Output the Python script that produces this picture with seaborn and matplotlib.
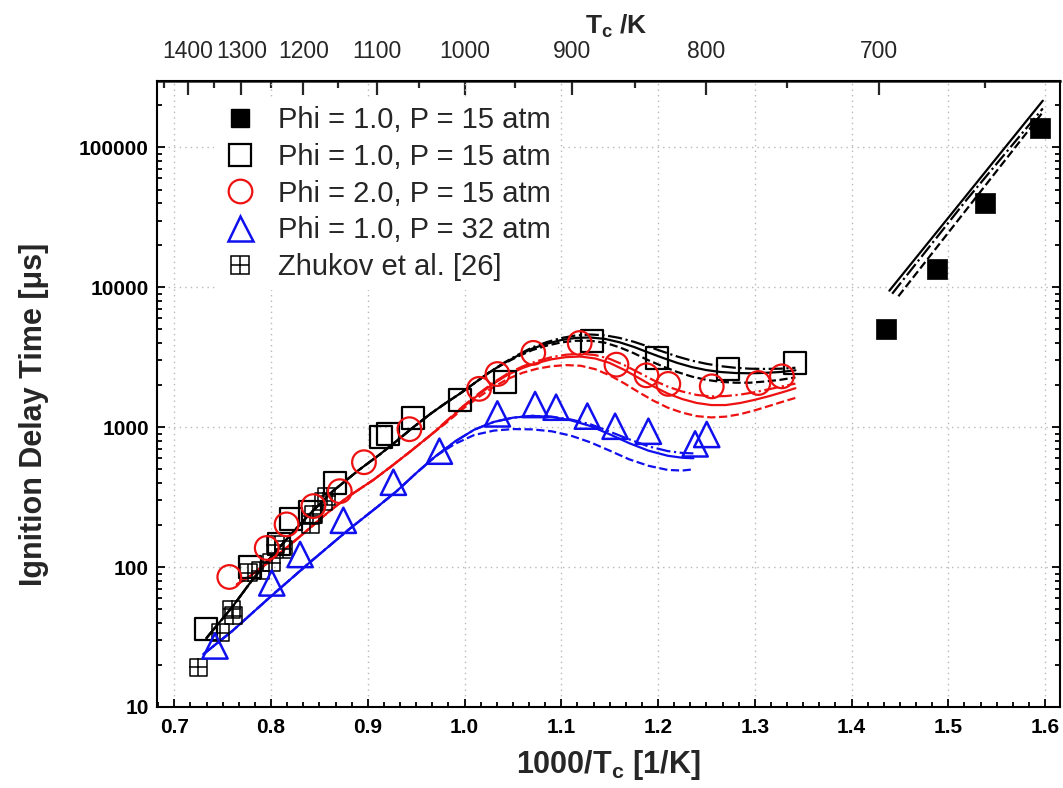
import numpy as np
import matplotlib
matplotlib.use("Agg")
import matplotlib.pyplot as plt
import seaborn as sns
from matplotlib.ticker import FixedLocator, FuncFormatter, AutoMinorLocator, LogLocator, MultipleLocator
from matplotlib.lines import Line2D

# ---------------- data ----------------
# experimental points
rcm_x = [1.4357, 1.4884, 1.5380, 1.5948]
rcm_y = [5012, 13450, 39800, 136700]

st15_x = [0.7325, 0.7785, 0.808, 0.8206, 0.840, 0.866, 0.914, 0.921, 0.947, 0.9953, 1.0418, 1.1314, 1.1987, 1.2727, 1.342]
st15_y = [36.2, 100, 146, 219, 247, 400, 850, 890, 1165, 1553, 2095, 4160, 3100, 2607, 2900]

phi2_x = [0.7568, 0.7955, 0.816, 0.8437, 0.871, 0.896, 0.943, 1.015, 1.034, 1.071, 1.119, 1.157, 1.188, 1.2106, 1.2555, 1.3037, 1.328]
phi2_y = [85, 137, 202, 273, 349, 562, 968, 1880, 2400, 3400, 4000, 2800, 2350, 2040, 1960, 2070, 2310]

p32_x = [0.742, 0.8007, 0.83, 0.8747, 0.9264, 0.974, 1.0339, 1.0729, 1.0946, 1.1269, 1.1556, 1.19, 1.2383, 1.2503]
p32_y = [27.3, 77, 123, 216, 404, 674, 1245, 1452, 1390, 1200, 1016, 936, 760, 887]

zh_x = [0.7247, 0.7472, 0.7593, 0.7610, 0.7765, 0.7886, 0.8007, 0.8041, 0.8127, 0.8403, 0.8434, 0.854, 0.8575]
zh_y = [19.3, 34, 50, 45, 91, 94, 107, 145, 134, 202, 239, 296, 321]

# model curves (black: phi 1.0, 15 atm)
bk_x = [0.733, 0.76, 0.78, 0.80, 0.82, 0.84, 0.864, 0.89, 0.9125, 0.93, 0.947, 0.965, 0.98, 0.9953,
        1.01, 1.025, 1.04, 1.055, 1.07, 1.085, 1.10, 1.115, 1.13, 1.145, 1.16, 1.175, 1.19, 1.205,
        1.22, 1.235, 1.25, 1.265, 1.28, 1.295, 1.31, 1.326, 1.342]
bk_solid = [31, 52, 80, 118, 170, 240, 350, 490, 640, 800, 1000, 1250, 1480, 1740,
            2060, 2450, 2850, 3250, 3650, 3950, 4200, 4350, 4380, 4280, 4050, 3750, 3420, 3130,
            2880, 2690, 2560, 2480, 2440, 2430, 2445, 2480, 2550]
bk_dash = [31, 52, 80, 118, 170, 240, 350, 490, 640, 800, 1000, 1250, 1480, 1740,
           2060, 2450, 2830, 3200, 3560, 3830, 4040, 4150, 4150, 4020, 3730, 3380, 3010, 2720,
           2480, 2300, 2180, 2110, 2080, 2080, 2120, 2180, 2270]
bk_dashdot = [31, 52, 80, 118, 170, 240, 350, 490, 640, 800, 1000, 1250, 1480, 1740,
              2060, 2450, 2870, 3290, 3720, 4060, 4340, 4530, 4600, 4540, 4350, 4080, 3770, 3470,
              3200, 2990, 2840, 2730, 2660, 2620, 2610, 2620, 2660]

# red: phi 2.0, 15 atm
rd_x = [0.7645, 0.78, 0.80, 0.82, 0.84, 0.86, 0.88, 0.9057, 0.925, 0.945, 0.965, 0.98, 0.9987,
        1.015, 1.03, 1.045, 1.06, 1.075, 1.09, 1.105, 1.12, 1.135, 1.15, 1.165, 1.18, 1.195,
        1.21, 1.225, 1.24, 1.255, 1.27, 1.285, 1.30, 1.315, 1.33, 1.342]
rd_solid = [75, 88, 112, 145, 190, 250, 320, 420, 530, 680, 880, 1080, 1400,
            1720, 2050, 2380, 2650, 2880, 3060, 3170, 3200, 3100, 2880, 2570, 2250, 1960,
            1740, 1590, 1490, 1440, 1440, 1490, 1570, 1670, 1790, 1900]
rd_dash = [75, 88, 112, 145, 190, 250, 320, 420, 530, 680, 880, 1060, 1360,
           1650, 1940, 2220, 2450, 2620, 2730, 2780, 2750, 2600, 2350, 2060, 1780, 1550,
           1380, 1270, 1200, 1175, 1190, 1240, 1320, 1420, 1530, 1620]
rd_dashdot = [75, 88, 112, 145, 190, 250, 320, 420, 530, 680, 880, 1090, 1420,
              1750, 2090, 2430, 2720, 2970, 3170, 3300, 3350, 3280, 3080, 2780, 2460, 2170,
              1950, 1800, 1700, 1660, 1670, 1710, 1780, 1870, 1970, 2050]

# blue: phi 1.0, 32 atm
bl_x = [0.7299, 0.76, 0.80, 0.84, 0.88, 0.91, 0.93, 0.95, 0.97, 0.99, 1.01, 1.03, 1.05, 1.07,
        1.09, 1.11, 1.13, 1.15, 1.17, 1.19, 1.21, 1.225, 1.2365]
bl_solid = [23.8, 35, 62, 108, 185, 270, 350, 470, 620, 790, 960, 1090, 1170, 1205,
            1185, 1120, 1020, 890, 770, 680, 625, 605, 600]
bl_dash = [23.8, 35, 62, 108, 185, 270, 350, 470, 620, 760, 880, 945, 970, 965,
           935, 870, 780, 680, 590, 530, 495, 490, 500]
bl_dashdot = [23.8, 35, 62, 108, 185, 270, 350, 470, 620, 790, 960, 1090, 1170, 1205,
              1190, 1135, 1050, 930, 820, 730, 675, 655, 650]

# low temperature (RCM) model lines
lt_solid_x = [1.4391, 1.518, 1.5977]
lt_solid_y = [9460, 44800, 215800]
lt_dash_x = [1.4484, 1.523, 1.5977]
lt_dash_y = [8630, 39200, 178700]
lt_dd_x = [1.442, 1.519, 1.5977]
lt_dd_y = [9000, 42300, 190000]

legend_labels = ["Phi = 1.0, P = 15 atm", "Phi = 1.0, P = 15 atm",
                 "Phi = 2.0, P = 15 atm", "Phi = 1.0, P = 32 atm",
                 "Zhukov et al. [26]"]
top_major = [1400, 1300, 1200, 1100, 1000, 900, 800, 700]
top_minor = [1450, 1350, 1250, 1150, 1050, 950, 850, 750, 650]

# ---------------- style ----------------
sns.set_style("ticks")
plt.rcParams['font.family'] = ['Liberation Sans', 'DejaVu Sans']
plt.rcParams['mathtext.default'] = 'regular'

RED = '#ee1111'
BLUE = '#1010ee'
BLACK = 'black'

fig = plt.figure(figsize=(10.63, 7.88), dpi=100)
ax = fig.add_axes([0.148, 0.1028, 0.8492, 0.7948])

ax.set_yscale('log')
ax.set_xlim(0.6824, 1.6155)
ax.set_ylim(10, 3.0e5)

lw = 1.6
def line(x, y, color, ls):
    sns.lineplot(x=x, y=y, color=color, linestyle=ls, linewidth=lw,
                 sort=False, estimator=None, ax=ax, legend=False, zorder=3)

line(bk_x, bk_solid, BLACK, '-')
line(bk_x, bk_dash, BLACK, '--')
line(bk_x, bk_dashdot, BLACK, '-.')
line(rd_x, rd_solid, RED, '-')
line(rd_x, rd_dash, RED, '--')
line(rd_x, rd_dashdot, RED, '-.')
line(bl_x, bl_solid, BLUE, '-')
line(bl_x, bl_dash, BLUE, '--')
line(bl_x, bl_dashdot, BLUE, '-.')
line(lt_solid_x, lt_solid_y, BLACK, '-')
line(lt_dash_x, lt_dash_y, BLACK, '--')
line(lt_dd_x, lt_dd_y, BLACK, '-.')

# markers
sns.scatterplot(x=zh_x, y=zh_y, marker='s', s=150, facecolors='none', edgecolor=BLACK, linewidth=1.1, ax=ax, zorder=4)
sns.scatterplot(x=zh_x, y=zh_y, marker='+', s=150, color=BLACK, linewidth=1.1, ax=ax, zorder=4)
sns.scatterplot(x=st15_x, y=st15_y, marker='s', s=250, facecolors='none', edgecolor=BLACK, linewidth=1.6, ax=ax, zorder=4)
sns.scatterplot(x=phi2_x, y=phi2_y, marker='o', s=290, facecolors='none', edgecolor=RED, linewidth=1.6, ax=ax, zorder=4)
sns.scatterplot(x=p32_x, y=p32_y, marker='^', s=330, facecolors='none', edgecolor=BLUE, linewidth=1.8, ax=ax, zorder=4)
sns.scatterplot(x=rcm_x, y=rcm_y, marker='s', s=200, color=BLACK, edgecolor=BLACK, linewidth=0.5, ax=ax, zorder=4)

# grid
ax.grid(True, which='major', linestyle=(0, (1, 3)), color='#b8b8b8', linewidth=1.0, zorder=0)
ax.set_axisbelow(True)

# ticks
ax.xaxis.set_major_locator(MultipleLocator(0.1))
ax.xaxis.set_minor_locator(AutoMinorLocator(6))
ax.xaxis.set_major_formatter(FuncFormatter(lambda v, p: f"{v:.1f}"))
ax.yaxis.set_major_locator(LogLocator(base=10, numticks=10))
ax.yaxis.set_minor_locator(LogLocator(base=10, subs=np.arange(2, 10), numticks=20))
ax.yaxis.set_major_formatter(FuncFormatter(lambda v, p: f"{int(round(v))}"))
ax.tick_params(axis='both', which='both', direction='in', width=1.3, colors='black')
ax.tick_params(axis='x', which='major', length=6, labelsize=15, pad=8, top=False)
ax.tick_params(axis='x', which='minor', length=3.5, top=False)
ax.tick_params(axis='y', which='major', length=6, labelsize=15, pad=6, right=True)
ax.tick_params(axis='y', which='minor', length=3.5, right=True)
for lab in ax.get_xticklabels() + ax.get_yticklabels():
    lab.set_fontweight('bold')

for sp in ax.spines.values():
    sp.set_linewidth(1.5)
    sp.set_color('black')

ax.set_xlabel("1000/T$_\\mathregular{c}$ [1/K]", fontsize=22, fontweight='bold', labelpad=8)
ax.set_ylabel("Ignition Delay Time [\u03bcs]", fontsize=22, fontweight='bold')
ax.yaxis.set_label_coords(-0.120, 0.468)

# secondary top axis in temperature
def inv(x):
    x = np.asarray(x, dtype=float)
    with np.errstate(divide='ignore', invalid='ignore'):
        return 1000.0 / x

sec = ax.secondary_xaxis('top', functions=(inv, inv))
sec.xaxis.set_major_locator(FixedLocator(top_major))
sec.xaxis.set_minor_locator(FixedLocator(top_minor))
sec.xaxis.set_major_formatter(FuncFormatter(lambda v, p: f"{int(round(v))}"))
sec.tick_params(axis='x', which='major', direction='in', length=10, width=1.6, labelsize=16.5, pad=13)
sec.tick_params(axis='x', which='minor', direction='in', length=5, width=1.6)
sec.spines['top'].set_linewidth(1.8)
sec.set_xlabel("T$_\\mathregular{c}$ /K", fontsize=19, fontweight='bold', labelpad=4)
sec.xaxis.label.set_x(0.508)

# legend
h_rcm = Line2D([], [], marker='s', linestyle='none', markersize=13.5, color=BLACK)
h_st = Line2D([], [], marker='s', linestyle='none', markersize=15.5, markerfacecolor='none', markeredgecolor=BLACK, markeredgewidth=1.6)
h_phi2 = Line2D([], [], marker='o', linestyle='none', markersize=17, markerfacecolor='none', markeredgecolor=RED, markeredgewidth=1.6)
h_p32 = Line2D([], [], marker='^', linestyle='none', markersize=18, markerfacecolor='none', markeredgecolor=BLUE, markeredgewidth=1.8)
h_zh1 = Line2D([], [], marker='s', linestyle='none', markersize=12.5, markerfacecolor='none', markeredgecolor=BLACK, markeredgewidth=1.1)
h_zh2 = Line2D([], [], marker='+', linestyle='none', markersize=12.5, color=BLACK, markeredgewidth=1.1)
leg = ax.legend([h_rcm, h_st, h_phi2, h_p32, (h_zh1, h_zh2)], legend_labels,
                loc='upper left', bbox_to_anchor=(0.0624, 0.9735), fontsize=21,
                frameon=True, facecolor='white', edgecolor='none', framealpha=1.0,
                handlelength=1.2, handletextpad=0.7, labelspacing=0.3, borderpad=0.3,
                borderaxespad=0.0)
leg.set_zorder(6)

fig.savefig("out.png", dpi=100)
